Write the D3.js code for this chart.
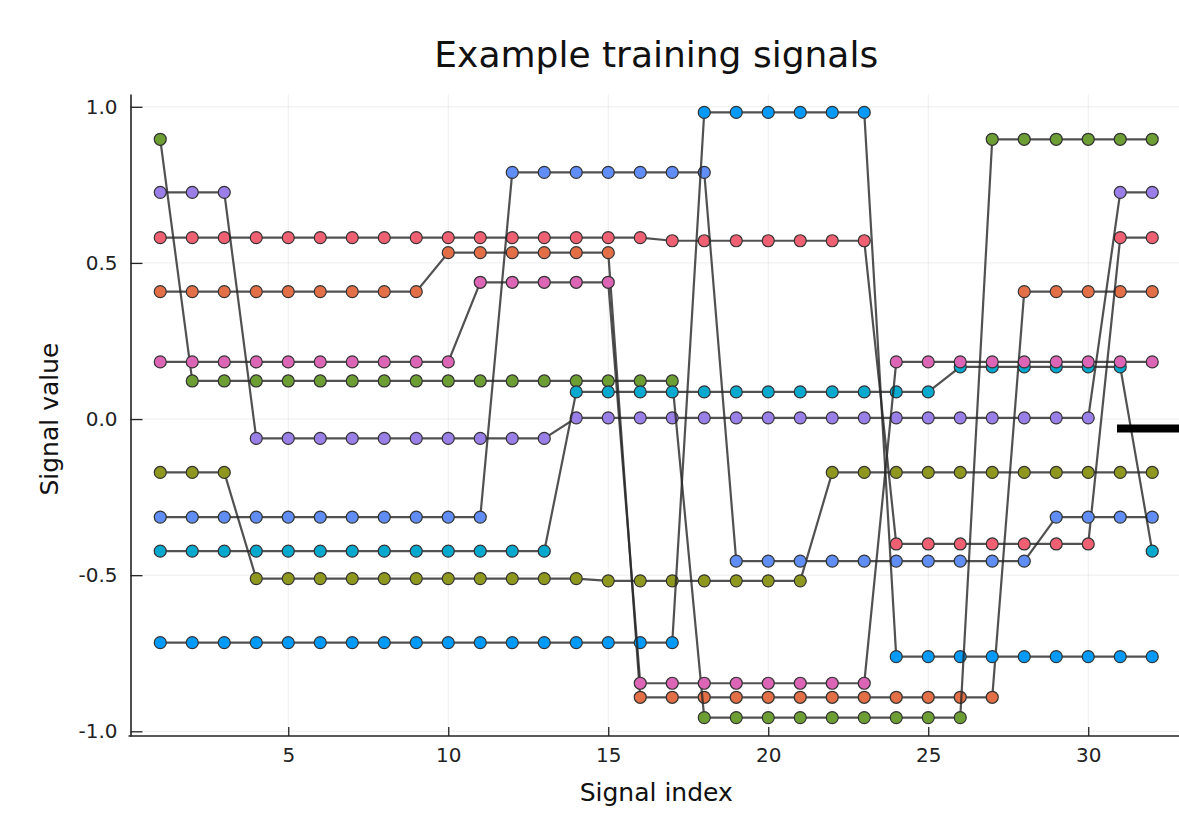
<!DOCTYPE html>
<html>
<head>
<meta charset="utf-8">
<script src="https://cdn.jsdelivr.net/npm/d3@7.9.0/dist/d3.min.js"></script>
<style>
  body { margin: 0; background: #fff; }
  svg { display: block; font-family: 'DejaVu Sans', sans-serif; }
</style>
</head>
<body>
<svg id="chart" width="1179" height="814"></svg>
<script>
// signal index 1..32
const signalIndex = [1, 2, 3, 4, 5, 6, 7, 8, 9, 10, 11, 12, 13, 14, 15, 16,
  17, 18, 19, 20, 21, 22, 23, 24, 25, 26, 27, 28, 29, 30, 31, 32];

// values, one array per signal
const orange = [0.408, 0.408, 0.408, 0.408, 0.408, 0.408, 0.408, 0.408, 0.408, 0.533, 0.533, 0.533, 0.533, 0.533, 0.533, -0.891,
  -0.891, -0.891, -0.891, -0.891, -0.891, -0.891, -0.891, -0.891, -0.891, -0.891, -0.891, 0.408, 0.408, 0.408, 0.408, 0.408];
const red = [0.581, 0.581, 0.581, 0.581, 0.581, 0.581, 0.581, 0.581, 0.581, 0.581, 0.581, 0.581, 0.581, 0.581, 0.581, 0.581,
  0.571, 0.571, 0.571, 0.571, 0.571, 0.571, 0.571, -0.400, -0.400, -0.400, -0.400, -0.400, -0.400, -0.400, 0.581, 0.581];
const purple = [0.726, 0.726, 0.726, -0.062, -0.062, -0.062, -0.062, -0.062, -0.062, -0.062, -0.062, -0.062, -0.062, 0.004, 0.004, 0.004,
  0.004, 0.004, 0.004, 0.004, 0.004, 0.004, 0.004, 0.004, 0.004, 0.004, 0.004, 0.004, 0.004, 0.004, 0.726, 0.726];
const olive = [-0.171, -0.171, -0.171, -0.511, -0.511, -0.511, -0.511, -0.511, -0.511, -0.511, -0.511, -0.511, -0.511, -0.511, -0.518, -0.518,
  -0.518, -0.518, -0.518, -0.518, -0.518, -0.171, -0.171, -0.171, -0.171, -0.171, -0.171, -0.171, -0.171, -0.171, -0.171, -0.171];
const blue = [-0.314, -0.314, -0.314, -0.314, -0.314, -0.314, -0.314, -0.314, -0.314, -0.314, -0.314, 0.790, 0.790, 0.790, 0.790, 0.790,
  0.790, 0.790, -0.455, -0.455, -0.455, -0.455, -0.455, -0.455, -0.455, -0.455, -0.455, -0.455, -0.314, -0.314, -0.314, -0.314];
const lightBlue = [-0.716, -0.716, -0.716, -0.716, -0.716, -0.716, -0.716, -0.716, -0.716, -0.716, -0.716, -0.716, -0.716, -0.716, -0.716, -0.716,
  -0.716, 0.982, 0.982, 0.982, 0.982, 0.982, 0.982, -0.761, -0.761, -0.761, -0.761, -0.761, -0.761, -0.761, -0.761, -0.761];
const green = [0.896, 0.122, 0.122, 0.122, 0.122, 0.122, 0.122, 0.122, 0.122, 0.122, 0.122, 0.122, 0.122, 0.122, 0.122, 0.122,
  0.122, -0.956, -0.956, -0.956, -0.956, -0.956, -0.956, -0.956, -0.956, -0.956, 0.896, 0.896, 0.896, 0.896, 0.896, 0.896];
const teal = [-0.423, -0.423, -0.423, -0.423, -0.423, -0.423, -0.423, -0.423, -0.423, -0.423, -0.423, -0.423, -0.423, 0.087, 0.087, 0.087,
  0.087, 0.087, 0.087, 0.087, 0.087, 0.087, 0.087, 0.087, 0.087, 0.167, 0.167, 0.167, 0.167, 0.167, 0.167, -0.423];
const pink = [0.183, 0.183, 0.183, 0.183, 0.183, 0.183, 0.183, 0.183, 0.183, 0.183, 0.438, 0.438, 0.438, 0.438, 0.438, -0.846,
  -0.846, -0.846, -0.846, -0.846, -0.846, -0.846, -0.846, 0.183, 0.183, 0.183, 0.183, 0.183, 0.183, 0.183, 0.183, 0.183];

const series = [orange, red, purple, olive, blue, lightBlue, green, teal, pink];
const seriesColors = ['#E36F47', '#F06073', '#9B7FE8', '#8E971E', '#618DF6', '#009AFA', '#6C9E33', '#00A9CD', '#DD65B5'];

const xTicks = [5, 10, 15, 20, 25, 30];
const yTicks = [-1.0, -0.5, 0.0, 0.5, 1.0];

const svg = d3.select('#chart');
const plotLeft = 130.5, plotRight = 1182, plotTop = 94, plotBottom = 736;

const x = d3.scaleLinear().domain([0.07, 32.93]).range([plotLeft, plotRight]);
const y = d3.scaleLinear().domain([-1.015, 1.041]).range([plotBottom, plotTop]);

// grid
svg.append('g')
  .selectAll('line')
  .data(xTicks)
  .join('line')
  .attr('x1', (d) => x(d)).attr('x2', (d) => x(d))
  .attr('y1', plotTop).attr('y2', plotBottom)
  .attr('stroke', '#000').attr('stroke-opacity', 0.07).attr('stroke-width', 1);

svg.append('g')
  .selectAll('line')
  .data(yTicks)
  .join('line')
  .attr('x1', plotLeft).attr('x2', plotRight)
  .attr('y1', (d) => y(d)).attr('y2', (d) => y(d))
  .attr('stroke', '#000').attr('stroke-opacity', 0.07).attr('stroke-width', 1);

// axes (plain hyphen for negatives, like the original)
const fmtY = (d) => d3.format('.1f')(d).replace('\u2212', '-');
const xAxis = d3.axisBottom(x).tickValues(xTicks).tickFormat(d3.format('d')).tickSizeInner(-9).tickSizeOuter(0).tickPadding(12);
const yAxis = d3.axisLeft(y).tickValues(yTicks).tickFormat(fmtY).tickSizeInner(-12).tickSizeOuter(0).tickPadding(13);

const gx = svg.append('g').attr('transform', `translate(0,${plotBottom})`).call(xAxis);
const gy = svg.append('g').attr('transform', `translate(${plotLeft},0)`).call(yAxis);

[gx, gy].forEach((g) => {
  g.select('.domain').attr('stroke', '#222').attr('stroke-width', 1.6);
  g.selectAll('.tick line').attr('stroke', '#222').attr('stroke-width', 1.3);
  g.selectAll('.tick text').attr('fill', '#222').attr('font-size', 20).attr('font-family', 'DejaVu Sans');
});
gx.select('.domain').attr('d', `M${plotLeft - 2},0H${plotRight}`);

// signals
const line = d3.line()
  .x((d, i) => x(signalIndex[i]))
  .y((d) => y(d));

series.forEach((values, s) => {
  const g = svg.append('g');
  g.append('path')
    .attr('d', line(values))
    .attr('fill', 'none')
    .attr('stroke', '#262626')
    .attr('stroke-opacity', 0.8)
    .attr('stroke-width', 2.2);
  g.selectAll('circle')
    .data(values)
    .join('circle')
    .attr('cx', (d, i) => x(signalIndex[i]))
    .attr('cy', (d) => y(d))
    .attr('r', 6)
    .attr('fill', seriesColors[s])
    .attr('stroke', '#333')
    .attr('stroke-width', 1.2);
});

// legend sample peeking in from the right edge
svg.append('line')
  .attr('x1', plotRight - 65).attr('x2', plotRight + 10)
  .attr('y1', y(-0.03)).attr('y2', y(-0.03))
  .attr('stroke', '#000').attr('stroke-width', 8);

// titles
svg.append('text')
  .attr('x', (plotLeft + plotRight) / 2).attr('y', 67)
  .attr('text-anchor', 'middle').attr('font-size', 36).attr('fill', '#111')
  .text('Example training signals');

svg.append('text')
  .attr('x', (plotLeft + plotRight) / 2).attr('y', 801)
  .attr('text-anchor', 'middle').attr('font-size', 25).attr('fill', '#111')
  .text('Signal index');

svg.append('text')
  .attr('transform', `translate(58,${y(0)}) rotate(-90)`)
  .attr('text-anchor', 'middle').attr('font-size', 25).attr('fill', '#111')
  .text('Signal value');
</script>
</body>
</html>
